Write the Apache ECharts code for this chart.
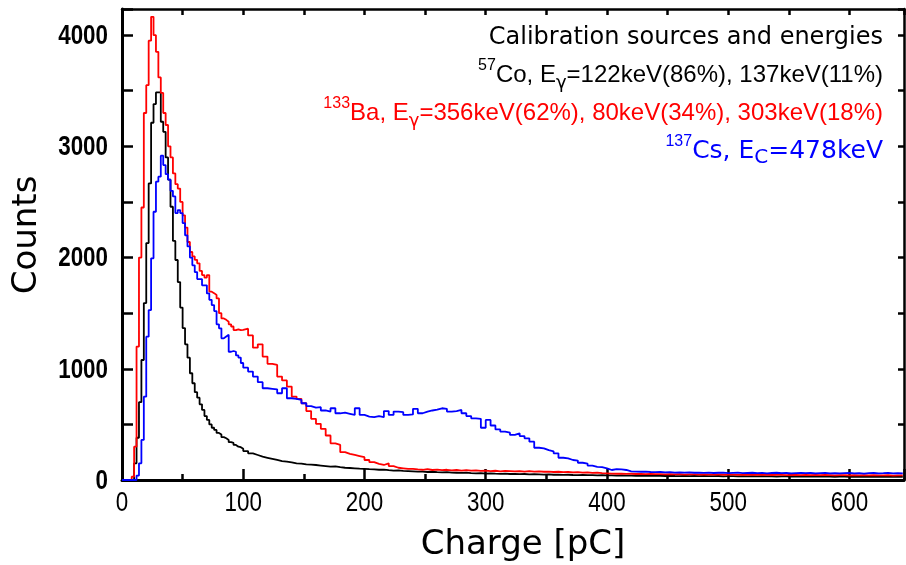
<!doctype html>
<html>
<head>
<meta charset="UTF-8">
<script src="https://cdn.jsdelivr.net/npm/echarts@6/dist/echarts.min.js"></script>
<style>
  html, body { margin: 0; padding: 0; background: #fff; }
  #main { width: 906px; height: 565px; }
</style>
</head>
<body>
<div id="main"></div>
<script>
// bins: 2 pC wide from 0 to 100 pC, then 4 pC wide up to 644 pC
var fineWidth = 2, fineEnd = 100, coarseWidth = 4, lastEdge = 644;

// 57Co (black)
var countsCo = [
  // 2 pC bins, 0-100
  0, 0, 0, 0, 0, 150, 380, 700, 1079, 1591,
  2130, 2667, 3212, 3380, 3485, 3485, 3221, 3131, 2900, 2700,
  2457, 2150, 1978, 1780, 1550, 1366, 1220, 1100, 960, 870,
  790, 740, 680, 630, 575, 540, 500, 470, 450, 423,
  410, 385, 375, 360, 340, 333, 315, 300, 295, 280,
  // 4 pC bins, 100-644
  260, 240, 225, 210, 200,
  190, 180, 170, 165, 158, 150, 148, 140, 138, 135,
  130, 125, 120, 122, 115, 110, 108, 105, 102, 100,
  97, 95, 92, 94, 88, 85, 86, 82, 80, 78,
  76, 75, 72, 74, 70, 68, 70, 66, 65, 64,
  66, 62, 60, 62, 58, 60, 57, 55, 58, 54,
  55, 52, 54, 50, 52, 50, 48, 50, 47, 48,
  46, 47, 45, 44, 46, 43, 44, 42, 43, 41,
  42, 40, 41, 39, 40, 38, 40, 38, 37, 39,
  37, 36, 38, 36, 35, 37, 35, 36, 34, 36,
  35, 34, 36, 33, 35, 34, 33, 35, 32, 34,
  33, 34, 32, 33, 31, 33, 32, 31, 33, 30,
  32, 31, 30, 32, 30, 31, 29, 31, 30, 29,
  30, 29, 31, 28, 30, 29, 28, 30, 28, 29,
  28
];

// 133Ba (red)
var countsBa = [
  0, 0, 0, 0, 30, 300, 1200, 2000, 2450, 3300,
  3550, 3950, 4165, 4000, 3850, 3620, 3480, 3300, 3192, 3000,
  2900, 2757, 2660, 2620, 2500, 2380, 2270, 2140, 2050, 2010,
  1980, 1948, 1880, 1843, 1820, 1843, 1693, 1680, 1663, 1633,
  1500, 1453, 1440, 1423, 1400, 1380, 1348, 1355, 1348, 1350,
  1360, 1300, 1190, 1220, 1110,
  1045, 1035, 930, 895, 840, 750, 730, 690, 620, 550,
  505, 460, 400, 330, 315, 250, 235, 225, 215, 205,
  180, 160, 145, 135, 150, 125, 110, 105, 100, 100,
  95, 92, 98, 90, 94, 88, 92, 86, 90, 85,
  88, 84, 86, 82, 85, 80, 83, 78, 82, 80,
  78, 80, 76, 79, 75, 77, 74, 76, 72, 74,
  70, 72, 68, 70, 66, 68, 64, 66, 62, 60,
  58, 56, 57, 55, 56, 54, 55, 53, 54, 52,
  53, 51, 52, 50, 52, 49, 51, 50, 48, 50,
  49, 48, 50, 47, 49, 48, 46, 48, 47, 46,
  48, 46, 47, 45, 47, 46, 44, 46, 45, 44,
  46, 44, 45, 43, 45, 44, 42, 44, 43, 42,
  44, 42, 43, 41, 43, 42, 41, 43, 40, 42,
  41
];

// 137Cs (blue)
var countsCs = [
  0, 0, 0, 0, 0, 0, 40, 150, 360, 749,
  1289, 1528, 1993, 2412, 2682, 2727, 2916, 2832, 2750, 2700,
  2600, 2550, 2400, 2427, 2400, 2310, 2200, 2100, 2000, 1930,
  1870, 1807, 1807, 1750, 1750, 1678, 1620, 1573, 1519, 1400,
  1364, 1274, 1290, 1306, 1153, 1160, 1153, 1120, 1101, 1052,
  1010, 975, 930, 880, 825,
  820, 815, 780, 825, 735, 730, 720, 690, 665, 650,
  655, 625, 615, 645, 600, 605, 595, 585, 645, 585,
  570, 565, 575, 565, 620, 585, 615, 610, 585, 590,
  640, 600, 615, 625, 632, 645, 640, 615, 620, 630,
  600, 575, 555, 550, 470, 540, 490, 455, 435, 425,
  405, 420, 395, 375, 345, 290, 285, 268, 258, 240,
  200, 195, 180, 175, 155, 148, 130, 118, 115, 105,
  90, 98, 95, 90, 78, 75, 74, 76, 72, 70,
  72, 68, 70, 67, 69, 66, 68, 65, 67, 64,
  66, 63, 65, 67, 62, 64, 66, 61, 63, 65,
  62, 64, 60, 63, 65, 61, 63, 60, 62, 64,
  61, 63, 59, 62, 64, 60, 62, 59, 61, 63,
  60, 62, 58, 61, 63, 59, 61, 64, 60, 62,
  60
];

var xTickLabels = [0, 100, 200, 300, 400, 500, 600];
var yTickLabels = [0, 1000, 2000, 3000, 4000];

var xMax = 645, yMax = 4235;

var labelFont = '"Liberation Sans", Arial, sans-serif';
var titleFont = '"DejaVu Sans", sans-serif';

// bin edges (left edge of every bin plus the closing edge)
var binEdges = [];
for (var e = 0; e < fineEnd; e += fineWidth) binEdges.push(e);
for (var e2 = fineEnd; e2 <= lastEdge; e2 += coarseWidth) binEdges.push(e2);

function toSteps(counts) {
  var pts = counts.map(function (c, i) { return [binEdges[i], c]; });
  pts.push([binEdges[counts.length], counts[counts.length - 1]]);
  return pts;
}

function histSeries(name, counts, color) {
  return {
    name: name,
    type: 'line',
    step: 'end',
    data: toSteps(counts),
    symbol: 'none',
    lineStyle: { color: color, width: 1.8 },
    xAxisIndex: 0,
    yAxisIndex: 0
  };
}

function legendLine(y, sup, pre, sub, post, color, mainFont, mainSize, subSize) {
  return {
    type: 'text', x: 883, y: y,
    style: {
      text: '{sup|' + sup + '}{n|' + pre + '}{sub|' + sub + '}{n|' + post + '}',
      fill: color, align: 'right', verticalAlign: 'middle',
      rich: {
        n: { fontSize: mainSize, fontFamily: mainFont, lineHeight: 34, fill: color },
        sup: { fontSize: 16, fontFamily: labelFont, lineHeight: 28, verticalAlign: 'top', fill: color },
        sub: { fontSize: subSize, fontFamily: titleFont, lineHeight: 18, verticalAlign: 'bottom', fill: color }
      }
    }
  };
}

var myChart = echarts.init(document.getElementById('main'), null, { renderer: 'canvas' });

var option = {
  animation: false,
  backgroundColor: '#fff',
  grid: { left: 122, top: 9, width: 782, height: 471 },
  xAxis: [{
    type: 'value', min: 0, max: xMax, interval: 100, position: 'bottom',
    axisLine: { show: true, onZero: false, lineStyle: { color: '#000', width: 3 } },
    axisTick: { show: true, inside: true, length: 11, lineStyle: { color: '#000', width: 2.5 } },
    axisLabel: { show: false },
    splitLine: { show: false }
  }, {
    type: 'value', min: 0, max: xMax, interval: 50, position: 'bottom',
    axisLine: { show: false },
    axisTick: { show: true, inside: true, length: 6, lineStyle: { color: '#000', width: 2.5 } },
    axisLabel: { show: false },
    splitLine: { show: false }
  }, {
    type: 'value', min: 0, max: xMax, interval: 50, position: 'top',
    axisLine: { show: true, onZero: false, lineStyle: { color: '#000', width: 2.5 } },
    axisTick: { show: true, inside: true, length: 6, lineStyle: { color: '#000', width: 2.5 } },
    axisLabel: { show: false },
    splitLine: { show: false }
  }],
  yAxis: [{
    type: 'value', min: 0, max: yMax, interval: 500, position: 'left',
    axisLine: { show: true, onZero: false, lineStyle: { color: '#000', width: 3 } },
    axisTick: { show: true, inside: true, length: 11, lineStyle: { color: '#000', width: 2.5 } },
    axisLabel: { show: false },
    splitLine: { show: false }
  }, {
    type: 'value', min: 0, max: yMax, interval: 500, position: 'right',
    axisLine: { show: true, onZero: false, lineStyle: { color: '#000', width: 2.5 } },
    axisTick: { show: true, inside: true, length: 6, lineStyle: { color: '#000', width: 2.5 } },
    axisLabel: { show: false },
    splitLine: { show: false }
  }],
  series: [
    histSeries('57Co', countsCo, '#000000'),
    histSeries('133Ba', countsBa, '#ff0000'),
    histSeries('137Cs', countsCs, '#0000ff')
  ]
};

myChart.setOption(option);

// tick labels: narrow digits like the original, placed through the axes
var graphics = [];
xTickLabels.forEach(function (v) {
  graphics.push({
    type: 'text', x: myChart.convertToPixel({ xAxisIndex: 0 }, v), y: 503, scaleX: 0.8,
    style: { text: String(v), fill: '#000', font: '28px ' + labelFont, align: 'center', verticalAlign: 'middle' }
  });
});
yTickLabels.forEach(function (v) {
  graphics.push({
    type: 'text', x: 108, y: myChart.convertToPixel({ yAxisIndex: 0 }, v) + 1, scaleX: 0.8,
    style: { text: String(v), fill: '#000', font: 'bold 28px ' + labelFont, align: 'right', verticalAlign: 'middle' }
  });
});

graphics.push({
  type: 'text', x: 523, y: 545,
  style: { text: 'Charge [pC]', fill: '#000', font: '34px ' + titleFont, align: 'center', verticalAlign: 'middle' }
});
graphics.push({
  type: 'text', x: 27, y: 235, rotation: Math.PI / 2,
  style: { text: 'Counts', fill: '#000', font: '34px ' + titleFont, align: 'center', verticalAlign: 'middle' }
});
graphics.push({
  type: 'text', x: 883, y: 38,
  style: { text: 'Calibration sources and energies', fill: '#000', font: '24px ' + titleFont, align: 'right', verticalAlign: 'middle' }
});
graphics.push(legendLine(75, '57', 'Co, E', 'γ', '=122keV(86%), 137keV(11%)', '#000000', labelFont, 24, 18));
graphics.push(legendLine(113, '133', 'Ba, E', 'γ', '=356keV(62%), 80keV(34%), 303keV(18%)', '#ff0000', labelFont, 24, 18));
graphics.push(legendLine(151, '137', 'Cs, E', 'C', '=478keV', '#0000ff', titleFont, 25, 20));

myChart.setOption({ graphic: graphics });
</script>
</body>
</html>
